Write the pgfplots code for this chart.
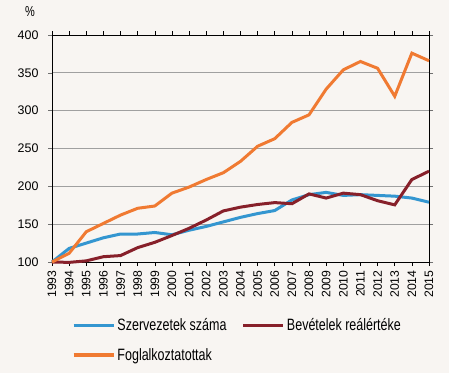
\documentclass[border=0pt]{standalone}
\usepackage{pgfplots}
\pgfplotsset{compat=1.18}
\usepackage{fontspec}
\setmainfont{Liberation Sans}
\newfontfamily\narrowfont[FakeStretch=0.76]{Liberation Sans}
\definecolor{bgc}{RGB}{248,245,242}
\definecolor{cblue}{RGB}{52,150,208}
\definecolor{cmaroon}{RGB}{135,32,42}
\definecolor{corange}{RGB}{240,122,50}
\definecolor{gridc}{RGB}{160,160,160}
\begin{document}
\begin{tikzpicture}
\fill[bgc] (-52bp,-111bp) rectangle (397bp,262bp);
\begin{axis}[
  at={(0,0)}, anchor=south west,
  scale only axis, width=377bp, height=227bp,
  clip=false,
  xmin=1993, xmax=2015, ymin=100, ymax=400,
  xtick={1993,...,2015}, ytick={100,150,...,400},
  /pgf/number format/1000 sep={},
  /pgf/number format/assume math mode=true,
  font=\fontsize{12.5}{14}\selectfont,
  x tick label style={rotate=90, anchor=east, font=\fontsize{12.3}{14}\selectfont, xshift=-1bp},
  y tick label style={font=\fontsize{12.5}{14}\selectfont, xshift=-6bp},
  tick align=outside,
  x tick style={black, line width=0.6pt},
  y tick style={gridc!70!black, line width=0.6pt},
  major tick length=4bp,
  ymajorgrids, grid style={gridc, line width=0.7pt},
  axis line style={black, line width=0.9pt},
  axis background/.style={fill=bgc},
  legend columns=2,
  legend style={at={(0.053,-0.245)}, anchor=north west, draw=none, fill=none,
    inner sep=0pt, outer sep=0pt,
    font=\narrowfont\fontsize{16.5}{18}\selectfont, column sep=1bp, row sep=14bp,
    nodes={inner sep=1bp},
    /tikz/every even column/.append style={column sep=14bp}},
  legend cell align=left,
  legend image code/.code={\draw[#1, line width=3.5bp] (0bp,0bp) -- (40bp,0bp);},
]
\addplot[cblue, line width=3bp] coordinates {
(1993,100)(1994,118)(1995,125)(1996,132)(1997,137)(1998,137)(1999,139)(2000,136)
(2001,142)(2002,147)(2003,153)(2004,159)(2005,164)(2006,168)(2007,182)(2008,189)
(2009,192)(2010,188)(2011,189)(2012,188)(2013,187)(2014,184.5)(2015,179)};
\addlegendentry{Szervezetek száma}
\addplot[cmaroon, line width=3bp] coordinates {
(1993,100)(1994,99.5)(1995,101.5)(1996,107)(1997,108.5)(1998,119)(1999,126)(2000,135)
(2001,144.5)(2002,155.5)(2003,167.5)(2004,172.5)(2005,176)(2006,178.5)(2007,177)(2008,190)
(2009,184.5)(2010,191)(2011,189)(2012,181)(2013,175.5)(2014,209)(2015,220)};
\addlegendentry{Bevételek reálértéke}
\addplot[corange, line width=3bp] coordinates {
(1993,100)(1994,111.5)(1995,140)(1996,151)(1997,162)(1998,171)(1999,174)(2000,191)
(2001,199)(2002,209)(2003,218)(2004,233)(2005,253)(2006,263)(2007,284.5)(2008,294.5)
(2009,328.5)(2010,354)(2011,365)(2012,356)(2013,319)(2014,376)(2015,366)};
\addlegendentry{Foglalkoztatottak}
\node[font=\narrowfont\fontsize{14.5}{16}\selectfont, inner sep=0pt] at (rel axis cs:0,1) [xshift=-22bp, yshift=23bp] {\%};
\end{axis}
\pgfresetboundingbox
\path (-52bp,-111bp) rectangle (397bp,262bp);
\end{tikzpicture}
\end{document}
